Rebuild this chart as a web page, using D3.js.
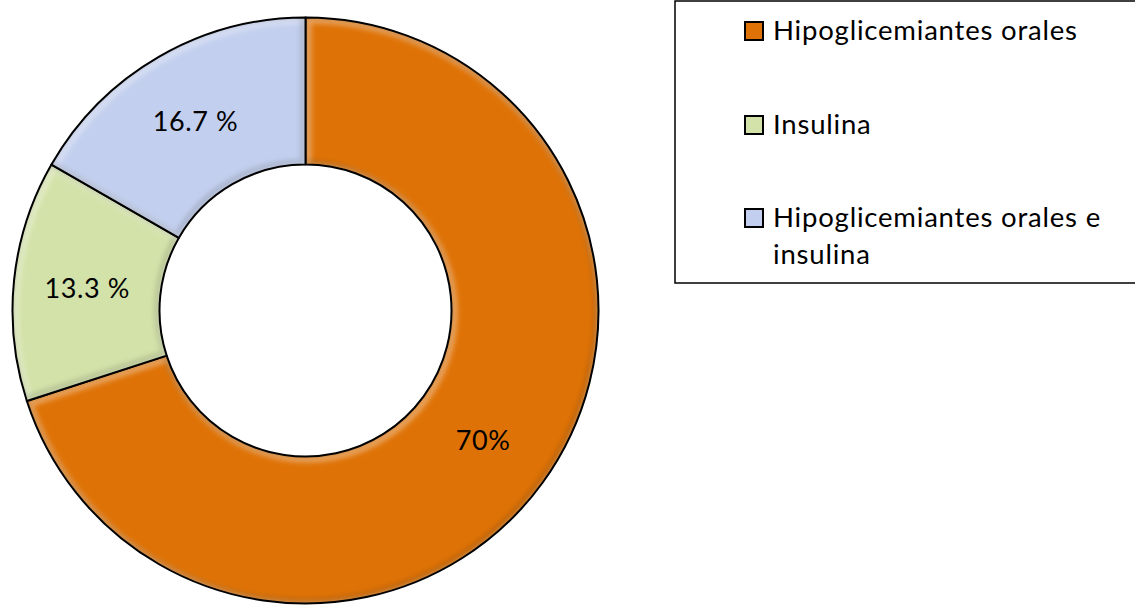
<!DOCTYPE html>
<html>
<head>
<meta charset="utf-8">
<script src="https://cdn.jsdelivr.net/npm/d3@7"></script>
<style>
  html, body { margin: 0; padding: 0; background: #fff; }
  svg { display: block; }
  text { font-family: Lato, "Open Sans", sans-serif; fill: #000; }
</style>
</head>
<body>
<script>
// Treatment categories and their shares (%)
const categories = ["Hipoglicemiantes orales", "Insulina", "Hipoglicemiantes orales e insulina"];
const values = [70, 13.3, 16.7];
const valueLabels = ["70%", "13.3 %", "16.7 %"];
const legendLines = [["Hipoglicemiantes orales"], ["Insulina"], ["Hipoglicemiantes orales e", "insulina"]];
const colors = ["#DE7206", "#D3E2A9", "#C2CFEE"];

const W = 1135, H = 605;
const cx = 305.5, cy = 310.5, outerR = 293, innerR = 146;

const svg = d3.select("body").append("svg").attr("width", W).attr("height", H);
const defs = svg.append("defs");

// Soft blur used for the bevelled edge highlights
defs.append("filter").attr("id", "soft")
  .attr("x", "-10%").attr("y", "-10%").attr("width", "120%").attr("height", "120%")
  .append("feGaussianBlur").attr("stdDeviation", 2.5);

const pie = d3.pie().sort(null).value(d => d)(values);
const arc = d3.arc().innerRadius(innerR).outerRadius(outerR);

const g = svg.append("g").attr("transform", `translate(${cx},${cy})`);

pie.forEach((d, i) => {
  defs.append("clipPath").attr("id", "clip" + i)
    .append("path").attr("d", arc(d));
});

const slices = g.selectAll("g.slice").data(pie).join("g").attr("class", "slice");

slices.append("path")
  .attr("d", arc)
  .attr("fill", (d, i) => colors[i]);

// Bevel: light edge on the upper-left, darker edge on the lower-right
slices.append("g").attr("clip-path", (d, i) => `url(#clip${i})`)
  .each(function (d) {
    const sel = d3.select(this);
    sel.append("path").attr("d", arc(d))
      .attr("fill", "none").attr("stroke", "#fff").attr("stroke-opacity", 0.35)
      .attr("stroke-width", 8).attr("filter", "url(#soft)")
      .attr("transform", "translate(2,2)");
    sel.append("path").attr("d", arc(d))
      .attr("fill", "none").attr("stroke", "#000").attr("stroke-opacity", 0.15)
      .attr("stroke-width", 6).attr("filter", "url(#soft)")
      .attr("transform", "translate(-2,-2)");
  });

slices.append("path")
  .attr("d", arc)
  .attr("fill", "none")
  .attr("stroke", "#000")
  .attr("stroke-width", 2)
  .attr("stroke-linejoin", "round");

// Slice value labels at the middle of each ring segment
const labelArc = d3.arc().innerRadius((innerR + outerR) / 2).outerRadius((innerR + outerR) / 2);
g.selectAll("text.val").data(pie).join("text")
  .attr("class", "val")
  .attr("x", d => labelArc.centroid(d)[0])
  .attr("y", d => labelArc.centroid(d)[1])
  .attr("text-anchor", "middle")
  .attr("dominant-baseline", "central")
  .attr("font-size", 27)
  .attr("letter-spacing", 0.6)
  .text((d, i) => valueLabels[i]);

// Legend
const legend = svg.append("g");
legend.append("rect")
  .attr("x", 675).attr("y", 1).attr("width", 470).attr("height", 282)
  .attr("fill", "#fff").attr("stroke", "#000").attr("stroke-width", 1.5);

const itemY = [31, 125, 218];
const items = legend.selectAll("g.item").data(categories).join("g").attr("class", "item")
  .attr("transform", (d, i) => `translate(744,${itemY[i]})`);

items.append("rect")
  .attr("x", 1).attr("y", -9).attr("width", 18).attr("height", 18)
  .attr("fill", (d, i) => colors[i])
  .attr("stroke", "#000").attr("stroke-width", 2);

items.append("text")
  .attr("x", 29)
  .attr("font-size", 27.5)
  .attr("letter-spacing", 0.8)
  .each(function (d, i) {
    const t = d3.select(this);
    legendLines[i].forEach((line, k) => {
      t.append("tspan").attr("x", 29).attr("y", 9 + k * 37).text(line);
    });
  });
</script>
</body>
</html>
